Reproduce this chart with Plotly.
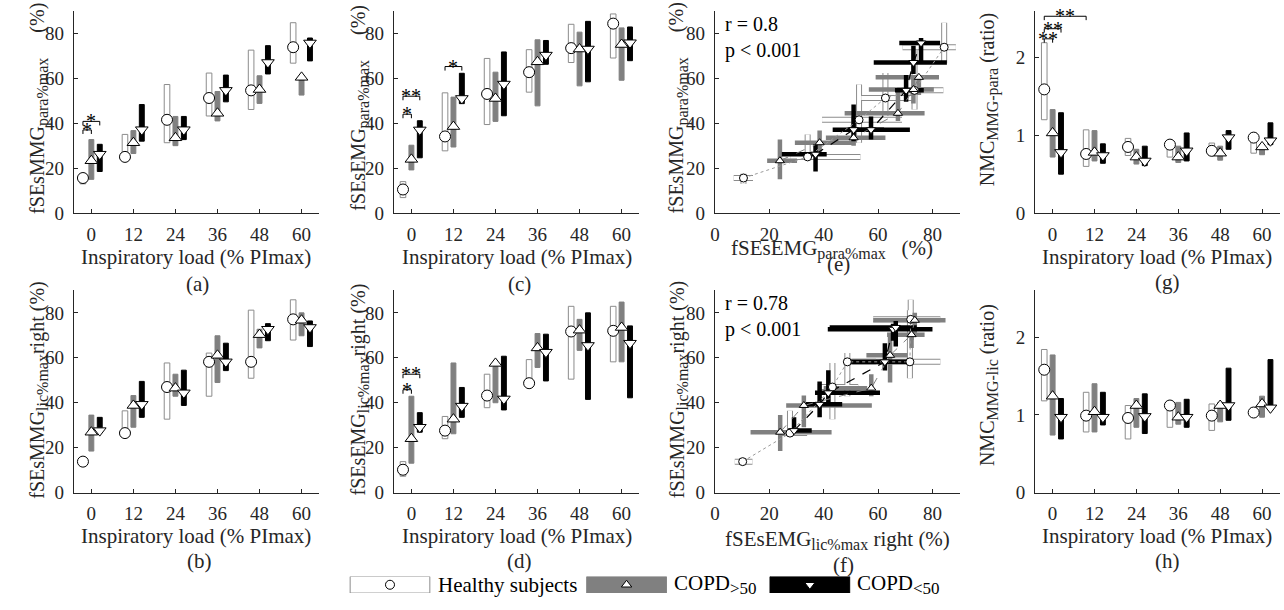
import numpy as np
import plotly.graph_objects as go

FONT = "Liberation Serif"
TXT = "#262626"
W, H = 1284, 610

# ---------------- data ----------------
loads = [0, 12, 24, 36, 48, 60]
group_names = ["Healthy subjects", "COPD<sub>>50</sub>", "COPD<sub>&lt;50</sub>"]

# each array: rows = [Healthy, COPD>50, COPD<50], columns = loads
mmg_para_med = [[15.6, 25.0, 41.5, 51.2, 54.6, 73.8],
                [23.3, 31.3, 33.5, 44.4, 55.0, 60.4],
                [26.2, 37.1, 37.1, 54.6, 67.0, 75.7]]
mmg_para_lo = [[13.0, 24.0, 31.3, 43.2, 46.1, 66.7],
               [15.0, 26.5, 30.0, 41.0, 48.8, 52.5],
               [18.5, 32.0, 32.7, 49.5, 61.9, 67.7]]
mmg_para_hi = [[17.5, 35.0, 57.2, 62.3, 72.5, 84.7],
               [32.7, 36.7, 43.0, 54.1, 61.1, 61.0],
               [30.6, 48.3, 43.0, 61.4, 74.5, 77.9]]

emg_para_med = [[10.5, 34.1, 53.0, 62.7, 73.4, 84.3],
                [23.9, 38.5, 51.0, 67.3, 73.0, 75.0],
                [37.0, 51.0, 57.4, 70.3, 73.0, 75.8]]
emg_para_lo = [[6.9, 27.7, 39.4, 53.8, 67.0, 69.0],
               [19.2, 29.4, 40.8, 47.7, 56.6, 59.1],
               [24.6, 48.7, 43.3, 66.2, 58.4, 67.8]]
emg_para_hi = [[14.0, 53.5, 68.8, 72.7, 84.0, 88.6],
               [30.2, 51.6, 62.7, 77.1, 80.5, 82.4],
               [41.1, 62.2, 71.7, 76.8, 85.3, 82.8]]

nmc_para_med = [[1.59, 0.76, 0.85, 0.88, 0.80, 0.97],
                [1.03, 0.78, 0.72, 0.72, 0.77, 0.85],
                [0.78, 0.74, 0.67, 0.80, 0.97, 0.93]]
nmc_para_lo = [[1.20, 0.60, 0.74, 0.72, 0.74, 0.77],
               [0.72, 0.67, 0.63, 0.65, 0.68, 0.75],
               [0.50, 0.64, 0.61, 0.67, 0.82, 0.88]]
nmc_para_hi = [[2.19, 1.07, 0.96, 0.87, 0.90, 1.03],
               [1.33, 1.06, 0.82, 0.86, 0.86, 0.88],
               [1.29, 0.89, 0.86, 1.03, 1.06, 1.16]]

mmg_lic_med = [[13.8, 26.5, 47.0, 58.2, 58.2, 77.1],
               [26.9, 38.8, 46.5, 61.1, 70.3, 76.7],
               [27.6, 39.3, 44.4, 58.2, 72.7, 73.5]]
mmg_lic_lo = [[12.8, 25.5, 32.7, 42.9, 50.9, 67.9],
              [18.5, 29.1, 42.9, 49.0, 64.4, 69.8],
              [28.0, 33.5, 38.8, 54.3, 67.6, 65.0]]
mmg_lic_hi = [[14.8, 36.4, 57.7, 62.1, 81.2, 85.8],
              [34.5, 43.2, 52.7, 69.8, 72.7, 80.0],
              [33.5, 49.5, 54.5, 66.5, 75.2, 76.4]]

emg_lic_med = [[10.2, 27.6, 43.2, 48.7, 71.7, 72.0],
               [24.0, 32.7, 57.5, 64.4, 72.3, 73.5],
               [29.1, 38.5, 41.7, 62.5, 65.5, 66.5]]
emg_lic_lo = [[7.3, 24.0, 37.8, 48.0, 50.5, 58.2],
              [13.1, 26.2, 40.0, 55.7, 63.3, 58.2],
              [26.9, 33.5, 36.8, 49.7, 41.5, 42.2]]
emg_lic_hi = [[13.8, 33.9, 52.7, 59.2, 82.9, 82.9],
              [42.9, 57.7, 56.0, 70.8, 77.1, 84.8],
              [35.6, 46.8, 60.7, 70.5, 80.0, 74.2]]

nmc_lic_med = [[1.58, 0.99, 0.96, 1.12, 0.99, 1.03],
               [1.24, 1.04, 1.12, 0.97, 1.12, 1.14],
               [0.97, 0.97, 0.98, 0.97, 1.12, 1.09]]
nmc_lic_lo = [[1.18, 0.78, 0.69, 0.84, 0.80, 1.00],
              [0.74, 0.78, 0.84, 0.88, 0.91, 0.97],
              [0.69, 0.87, 0.76, 0.84, 0.93, 1.12]]
nmc_lic_hi = [[1.84, 1.29, 1.12, 1.12, 1.14, 1.09],
              [1.77, 1.40, 1.21, 1.16, 1.16, 1.24],
              [1.21, 1.29, 1.27, 1.20, 1.60, 1.71]]

# significance brackets: (load from, group from, load to, group to, height, label)
sig_a = [(0, 0, 0, 1, 37.0, "*"), (0, 0, 0, 2, 40.8, "*")]
sig_c = [(0, 0, 0, 1, 44.0, "*"), (0, 0, 0, 2, 52.0, "**"), (12, 0, 12, 2, 65.2, "*")]
sig_d = [(0, 0, 0, 1, 45.8, "*"), (0, 0, 0, 2, 52.7, "**")]
sig_g = [(0, 0, 0, 1, 2.24, "**"), (0, 0, 0, 2, 2.37, "**"), (0, 0, 12, 0, 2.53, "**")]

corr_e = ["r = 0.8", "p &lt; 0.001"]
corr_f = ["r = 0.78", "p &lt; 0.001"]

# ---------------- styles ----------------
GROUP_OFFSET = [-2.4, 0.0, 2.4]
BAR_W = [1.6, 1.4, 1.4]
BAR_FILL = ["white", "#808080", "black"]
BAR_LINE = ["#8c8c8c", "#808080", "black"]
SYMBOLS = ["circle", "triangle-up", "triangle-down"]


def px_x(p):
    return p / W


def px_y(p):
    return 1 - p / H


def sub(t, size=16):
    return f'<sub><span style="font-size:{size}px">{t}</span></sub>'


fig = go.Figure()


def ax_ids(n):
    return ("x" if n == 1 else f"x{n}"), ("y" if n == 1 else f"y{n}")


def add_bar_panel(n, med, lo, hi, sigs, tick_depth):
    xr, yr = ax_ids(n)
    med, lo, hi = np.array(med), np.array(lo), np.array(hi)
    for g in range(3):
        xs = [l + GROUP_OFFSET[g] for l in loads]
        fig.add_trace(go.Bar(x=xs, y=hi[g] - lo[g], base=lo[g], width=BAR_W[g],
                             marker=dict(color=BAR_FILL[g], line=dict(color=BAR_LINE[g], width=1)),
                             xaxis=xr, yaxis=yr, showlegend=False, hoverinfo="skip"))
    for g in range(3):
        xs = [l + GROUP_OFFSET[g] for l in loads]
        fig.add_trace(go.Scatter(x=xs, y=med[g], mode="markers",
                                 marker=dict(symbol=SYMBOLS[g], size=11, color="white",
                                             line=dict(color="black", width=1)),
                                 xaxis=xr, yaxis=yr, showlegend=False, cliponaxis=False))
    for (l1, g1, l2, g2, yy, lab) in sigs:
        x1 = l1 + GROUP_OFFSET[g1]
        x2 = l2 + GROUP_OFFSET[g2]
        fig.add_trace(go.Scatter(x=[x1, x1, x2, x2], y=[yy - tick_depth, yy, yy, yy - tick_depth],
                                 mode="lines", line=dict(color="black", width=1),
                                 xaxis=xr, yaxis=yr, showlegend=False, hoverinfo="skip"))
        fig.add_annotation(x=(x1 + x2) / 2, y=yy, xref=xr, yref=yr, text=lab, showarrow=False,
                           yanchor="bottom", yshift=-13, font=dict(family=FONT, size=20, color="black"))


def add_scatter_panel(n, xmed, xlo, xhi, ymed, ylo, yhi, corr):
    xr, yr = ax_ids(n)
    xmed, xlo, xhi = np.array(xmed), np.array(xlo), np.array(xhi)
    ymed, ylo, yhi = np.array(ymed), np.array(ylo), np.array(yhi)
    err_styles = [[("#8c8c8c", 6), ("white", 4)], [("#808080", 4.5)], [("black", 4.5)]]
    for g in range(3):
        for col, th in err_styles[g]:
            fig.add_trace(go.Scatter(
                x=xmed[g], y=ymed[g], mode="markers",
                marker=dict(size=1, color="rgba(0,0,0,0)"),
                error_x=dict(type="data", symmetric=False, array=xhi[g] - xmed[g],
                             arrayminus=xmed[g] - xlo[g], thickness=th, width=0, color=col),
                error_y=dict(type="data", symmetric=False, array=yhi[g] - ymed[g],
                             arrayminus=ymed[g] - ylo[g], thickness=th, width=0, color=col),
                xaxis=xr, yaxis=yr, showlegend=False, hoverinfo="skip"))
    line_styles = [("#9a9a9a", "dot", 1), ("#808080", "dash", 1), ("black", "dash", 1.2)]
    for g in range(3):
        col, dash, lw = line_styles[g]
        fig.add_trace(go.Scatter(x=xmed[g], y=ymed[g], mode="lines",
                                 line=dict(color=col, dash=dash, width=lw),
                                 xaxis=xr, yaxis=yr, showlegend=False, hoverinfo="skip"))
    for g in range(3):
        fig.add_trace(go.Scatter(x=xmed[g], y=ymed[g], mode="markers",
                                 marker=dict(symbol=SYMBOLS[g], size=8, color="white",
                                             line=dict(color="black", width=1)),
                                 xaxis=xr, yaxis=yr, showlegend=False))
    fig.add_annotation(x=0.035, y=1.0, xref=f"{xr} domain", yref=f"{yr} domain",
                       text="<br>".join(corr), showarrow=False, xanchor="left", yanchor="top",
                       align="left", font=dict(family=FONT, size=20, color="black"))


# panels: a=1, c=2, e=3, g=4, b=5, d=6, f=7, h=8
add_bar_panel(1, mmg_para_med, mmg_para_lo, mmg_para_hi, sig_a, 1.8)
add_bar_panel(2, emg_para_med, emg_para_lo, emg_para_hi, sig_c, 1.8)
add_scatter_panel(3, emg_para_med, emg_para_lo, emg_para_hi, mmg_para_med, mmg_para_lo, mmg_para_hi, corr_e)
add_bar_panel(4, nmc_para_med, nmc_para_lo, nmc_para_hi, sig_g, 0.05)
add_bar_panel(5, mmg_lic_med, mmg_lic_lo, mmg_lic_hi, [], 1.8)
add_bar_panel(6, emg_lic_med, emg_lic_lo, emg_lic_hi, sig_d, 1.8)
add_scatter_panel(7, emg_lic_med, emg_lic_lo, emg_lic_hi, mmg_lic_med, mmg_lic_lo, mmg_lic_hi, corr_f)
add_bar_panel(8, nmc_lic_med, nmc_lic_lo, nmc_lic_hi, [], 0.05)

# ---------------- axes ----------------
XDOM = [(69.1, 315.3), (390.4, 636.6), (712.7, 958.4), (1034.2, 1279.5)]
YDOM_TOP = (11.0, 217.0)
YDOM_BOT = (295.7, 501.7)

common = dict(showline=True, linecolor=TXT, linewidth=1, ticks="inside", ticklen=4, tickcolor=TXT,
              tickfont=dict(family=FONT, size=19, color=TXT), showgrid=False, zeroline=False,
              fixedrange=True)

layout_axes = {}
for n in range(1, 9):
    col = (n - 1) % 4
    row_dom = YDOM_TOP if n <= 4 else YDOM_BOT
    xk = "xaxis" if n == 1 else f"xaxis{n}"
    yk = "yaxis" if n == 1 else f"yaxis{n}"
    xr, yr = ax_ids(n)
    if col == 2:
        xcfg = dict(range=[0, 90], tickvals=[0, 20, 40, 60, 80])
    else:
        xcfg = dict(range=[-5, 65], tickvals=loads)
    if col == 3:
        ycfg = dict(range=[0, 2.6], tickvals=[0, 1, 2])
    else:
        ycfg = dict(range=[0, 90], tickvals=[0, 20, 40, 60, 80])
    layout_axes[xk] = dict(common, domain=[px_x(XDOM[col][0]), px_x(XDOM[col][1])], anchor=yr,
                           ticklabelstandoff=4, **xcfg)
    layout_axes[yk] = dict(common, domain=[px_y(row_dom[1]), px_y(row_dom[0])], anchor=xr,
                           ticklabelstandoff=5, **ycfg)

# legend axis
LEG_X = [386.5, 624.0, 808.0]
LEG_TEXT_X = [433, 670, 853]
LEG_BOX_W = 80
layout_axes["xaxis9"] = dict(domain=[0, 1], range=[0, W], visible=False, fixedrange=True, anchor="y9")
layout_axes["yaxis9"] = dict(domain=[px_y(604), px_y(587)], range=[0, 1], visible=False,
                             fixedrange=True, anchor="x9")
for g in range(3):
    fig.add_trace(go.Bar(x=[LEG_X[g]], y=[1], base=[0], width=LEG_BOX_W,
                         marker=dict(color=BAR_FILL[g], line=dict(color=BAR_LINE[g], width=1)),
                         xaxis="x9", yaxis="y9", showlegend=False, hoverinfo="skip"))
leg_labels = ["Healthy subjects", "COPD" + sub("&gt;50", 17), "COPD" + sub("&lt;50", 17)]
for g in range(3):
    fig.add_trace(go.Scatter(x=[LEG_X[g]], y=[0.5], mode="markers",
                             marker=dict(symbol=SYMBOLS[g], size=9, color="white",
                                         line=dict(color="black", width=1)),
                             xaxis="x9", yaxis="y9", showlegend=False, hoverinfo="skip"))
    fig.add_annotation(x=LEG_TEXT_X[g], y=0.5, xref="x9", yref="y9", text=leg_labels[g],
                       showarrow=False, xanchor="left", yanchor="middle",
                       font=dict(family=FONT, size=21, color="black"))

# ---------------- titles & labels ----------------
def ann(text, x, y, angle=0, size=20, xanchor="center", yanchor="middle"):
    fig.add_annotation(x=px_x(x), y=px_y(y), xref="paper", yref="paper", text=text,
                       showarrow=False, textangle=angle, xanchor=xanchor, yanchor=yanchor,
                       font=dict(family=FONT, size=size, color=TXT))

NB = "&nbsp;"
xcent = [(a + b) / 2 for a, b in XDOM]
LOAD_TITLE = "Inspiratory load (% PImax)"
# x titles
ann(LOAD_TITLE, xcent[0], 262, size=21)
ann(LOAD_TITLE, xcent[1], 262, size=21)
ann("fSEsEMG" + sub("para%max") + NB * 3 + "(%)", 830, 254, size=21)
ann(LOAD_TITLE, xcent[3], 262, size=21)
ann(LOAD_TITLE, xcent[0], 546, size=21)
ann(LOAD_TITLE, xcent[1], 546, size=21)
ann("fSEsEMG" + sub("lic%max") + " right (%)", 836, 550, size=21)
ann(LOAD_TITLE, xcent[3], 546, size=21)

# y titles
ann("fSEsMMG" + sub("para%max") + NB * 5 + "(%)", 34, 110, angle=-90)
ann("fSEsEMG" + sub("para%max") + NB * 5 + "(%)", 356, 110, angle=-90)
ann("fSEsMMG" + sub("para%max") + NB * 5 + "(%)", 676, 110, angle=-90)
ann("NMC" + sub("MMG-para") + " (ratio)", 988, 102, angle=-90)
ann("fSEsMMG" + sub("lic%max") + "right (%)", 34, 397, angle=-90)
ann("fSEsEMG" + sub("lic%max") + "right (%)", 356, 397, angle=-90)
ann("fSEsMMG" + sub("lic%max") + "right (%)", 676, 397, angle=-90)
ann("NMC" + sub("MMG-lic") + " (ratio)", 988, 392, angle=-90)

# panel letters
for lab, x, y in [("(a)", 193, 289), ("(c)", 517, 289), ("(e)", 837, 269), ("(g)", 1167, 287),
                  ("(b)", 195, 571), ("(d)", 517, 571), ("(f)", 842, 575), ("(h)", 1167, 571)]:
    ann(lab, x, y, size=21)

fig.update_layout(width=W, height=H, margin=dict(l=0, r=0, t=0, b=0),
                  paper_bgcolor="white", plot_bgcolor="white", barmode="overlay",
                  showlegend=False, font=dict(family=FONT, color=TXT), **layout_axes)

fig.write_html("out.html")
